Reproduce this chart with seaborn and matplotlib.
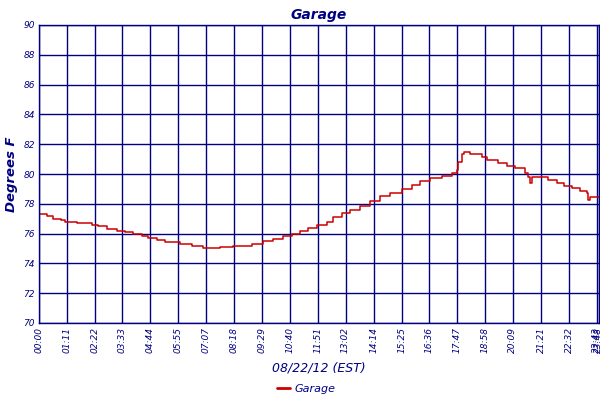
import pandas as pd
import matplotlib.pyplot as plt
import seaborn as sns

# minutes after midnight, 08/22/12
minutes = [0, 20, 35, 55, 66, 96, 134, 151, 173, 198, 219, 241, 262, 279, 300,
           321, 360, 390, 419, 462, 496, 513, 543, 572, 598, 623, 645, 666, 687,
           709, 734, 751, 772, 793, 819, 845, 870, 896, 925, 951, 972, 998, 1027,
           1053, 1066, 1070, 1078, 1083, 1100, 1129, 1142, 1172, 1193, 1214, 1240,
           1248, 1253, 1257, 1283, 1299, 1321, 1338, 1359, 1380, 1397, 1401, 1406,
           1428]
temps = [77.3, 77.2, 77.0, 76.9, 76.8, 76.7, 76.6, 76.5, 76.3, 76.2, 76.1, 75.95,
         75.85, 75.7, 75.55, 75.45, 75.3, 75.17, 75.03, 75.1, 75.15, 75.2, 75.3,
         75.5, 75.66, 75.84, 75.97, 76.2, 76.4, 76.6, 76.8, 77.1, 77.4, 77.6,
         77.85, 78.17, 78.5, 78.75, 79.0, 79.26, 79.5, 79.75, 79.87, 80.1, 80.3,
         80.83, 81.35, 81.5, 81.35, 81.16, 80.94, 80.76, 80.54, 80.38, 80.09,
         79.82, 79.37, 79.78, 79.78, 79.6, 79.37, 79.2, 79.04, 78.86, 78.7, 78.25,
         78.48, 78.48]

tick_minutes = [0, 71, 142, 213, 284, 355, 427, 498, 569, 640, 711, 782, 854, 925,
                996, 1067, 1138, 1209, 1281, 1352, 1423, 1428]
tick_labels = ['%02d:%02d' % (m // 60, m % 60) for m in tick_minutes]
y_ticks = list(range(70, 91, 2))

navy = '#000080'
red = '#cc0000'

df = pd.DataFrame({'Minute': minutes, 'Temp': temps, 'Sensor': 'Garage'})

sns.set_style('white')
plt.rcParams['font.family'] = ['DejaVu Sans']

fig = plt.figure(figsize=(6, 4), dpi=100)
ax = fig.add_axes([0.065, 0.1925, 0.933, 0.745])

sns.lineplot(data=df, x='Minute', y='Temp', hue='Sensor', palette=[red],
             drawstyle='steps-post', linewidth=1.1, ax=ax, legend=False)

ax.set_xlim(0, 1428)
ax.set_ylim(70, 90)
ax.set_xticks(tick_minutes)
ax.set_xticklabels(tick_labels, rotation=90, fontsize=6.5, style='italic', color=navy)
ax.set_yticks(y_ticks)
ax.set_yticklabels([str(v) for v in y_ticks], fontsize=6.5, style='italic', color=navy)
ax.tick_params(length=0, pad=3)
ax.grid(True, color=navy, linewidth=1)
ax.set_axisbelow(True)
for s in ax.spines.values():
    s.set_color(navy)
    s.set_linewidth(1)

ax.set_title('Garage', fontsize=10, fontweight='bold', style='italic', color=navy, pad=4)
ax.set_xlabel('08/22/12 (EST)', fontsize=9, style='italic', color=navy, labelpad=6)
ax.set_ylabel('Degrees F', fontsize=9.5, fontweight='bold', style='italic', color=navy, labelpad=4)

handle = plt.Line2D([], [], color=red, linewidth=2)
leg = fig.legend([handle], ['Garage'], loc='center', bbox_to_anchor=(0.51, 0.027),
                 frameon=False, handlelength=1.2, handletextpad=0.4, fontsize=8)
for t in leg.get_texts():
    t.set_color(navy)
    t.set_style('italic')

fig.savefig('out.png', dpi=100)
